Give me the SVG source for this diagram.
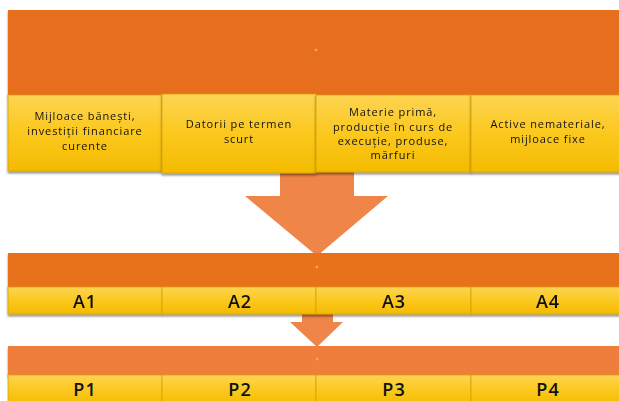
<svg xmlns="http://www.w3.org/2000/svg" width="619" height="401" viewBox="0 0 619 401">
  <defs>
    <linearGradient id="yel" x1="0" y1="0" x2="0" y2="1">
      <stop offset="0" stop-color="#FDD451"/>
      <stop offset="0.5" stop-color="#FBC81E"/>
      <stop offset="1" stop-color="#F4BB00"/>
    </linearGradient>
    <filter id="sh" x="-5%" y="-20%" width="110%" height="150%">
      <feDropShadow dx="0" dy="2" stdDeviation="1.2" flood-color="#000" flood-opacity="0.45"/>
    </filter>
    <style>
      .band1 { fill: #E66E1F; }
      .band2 { fill: #E8711F; }
      .band3 { fill: #EF7E3E; }
      .cell { fill: url(#yel); stroke: #D8A200; stroke-width: 0.8; }
      .arrow { fill: #F0854A; }
      .dot { fill: #F9AE3E; }
      .t { font-family: "Open Sans", "Liberation Sans", sans-serif; font-size: 11px; fill: #111; text-anchor: middle; letter-spacing: 0.9px; }
      .big { font-family: "Open Sans", "Liberation Sans", sans-serif; font-size: 18px; font-weight: 600; fill: #111; text-anchor: middle; letter-spacing: 1px; }
    </style>
  </defs>

  <g id="connectors">
    <path class="arrow" d="M280 171 H354 V196 H388 L317 256 L245 196 H280 Z"/>
    <path class="arrow" d="M302 313 H333 V322 H343 L317 347 L290 322 H302 Z"/>
  </g>

  <g id="top-band" filter="url(#sh)">
    <rect class="band1" x="8" y="10" width="620" height="86"/>
    <circle class="dot" cx="316" cy="50" r="1.3"/>
  </g>
  <g id="cell-mijloace-banesti" filter="url(#sh)">
    <rect class="cell" x="8" y="95" width="154" height="76"/>
    <text class="t" x="85" y="120">Mijloace bănești,</text>
    <text class="t" x="85" y="135">investiții financiare</text>
    <text class="t" x="85" y="150">curente</text>
  </g>
  <g id="cell-datorii" filter="url(#sh)">
    <rect class="cell" x="162" y="94" width="154" height="79"/>
    <text class="t" x="239" y="128">Datorii pe termen</text>
    <text class="t" x="239" y="143">scurt</text>
  </g>
  <g id="cell-materie-prima" filter="url(#sh)">
    <rect class="cell" x="316" y="95" width="155" height="77"/>
    <text class="t" x="393" y="116">Materie primă,</text>
    <text class="t" x="393" y="131">producție în curs de</text>
    <text class="t" x="393" y="145">execuție, produse,</text>
    <text class="t" x="393" y="159">mărfuri</text>
  </g>
  <g id="cell-active" filter="url(#sh)">
    <rect class="cell" x="471" y="95" width="157" height="77"/>
    <text class="t" x="548" y="128">Active nemateriale,</text>
    <text class="t" x="548" y="143">mijloace fixe</text>
  </g>

  <g id="middle-band" filter="url(#sh)">
    <rect class="band2" x="8" y="253" width="620" height="35"/>
    <circle class="dot" cx="317" cy="267" r="1.3"/>
  </g>
  <g id="a-row" filter="url(#sh)">
    <rect class="cell" x="8" y="287" width="154" height="27"/>
    <rect class="cell" x="162" y="287" width="154" height="27"/>
    <rect class="cell" x="316" y="287" width="155" height="27"/>
    <rect class="cell" x="471" y="287" width="157" height="27"/>
    <text class="big" x="85" y="308">A1</text>
    <text class="big" x="240" y="308">A2</text>
    <text class="big" x="394" y="308">A3</text>
    <text class="big" x="548" y="308">A4</text>
  </g>

  <g id="bottom-band" filter="url(#sh)">
    <rect class="band3" x="8" y="346" width="620" height="30"/>
    <circle class="dot" cx="317" cy="359" r="1.3"/>
  </g>
  <g id="p-row">
    <rect class="cell" x="8" y="375" width="154" height="30"/>
    <rect class="cell" x="162" y="375" width="154" height="30"/>
    <rect class="cell" x="316" y="375" width="155" height="30"/>
    <rect class="cell" x="471" y="375" width="157" height="30"/>
    <text class="big" x="85" y="396">P1</text>
    <text class="big" x="240" y="396">P2</text>
    <text class="big" x="394" y="396">P3</text>
    <text class="big" x="548" y="396">P4</text>
  </g>
</svg>
